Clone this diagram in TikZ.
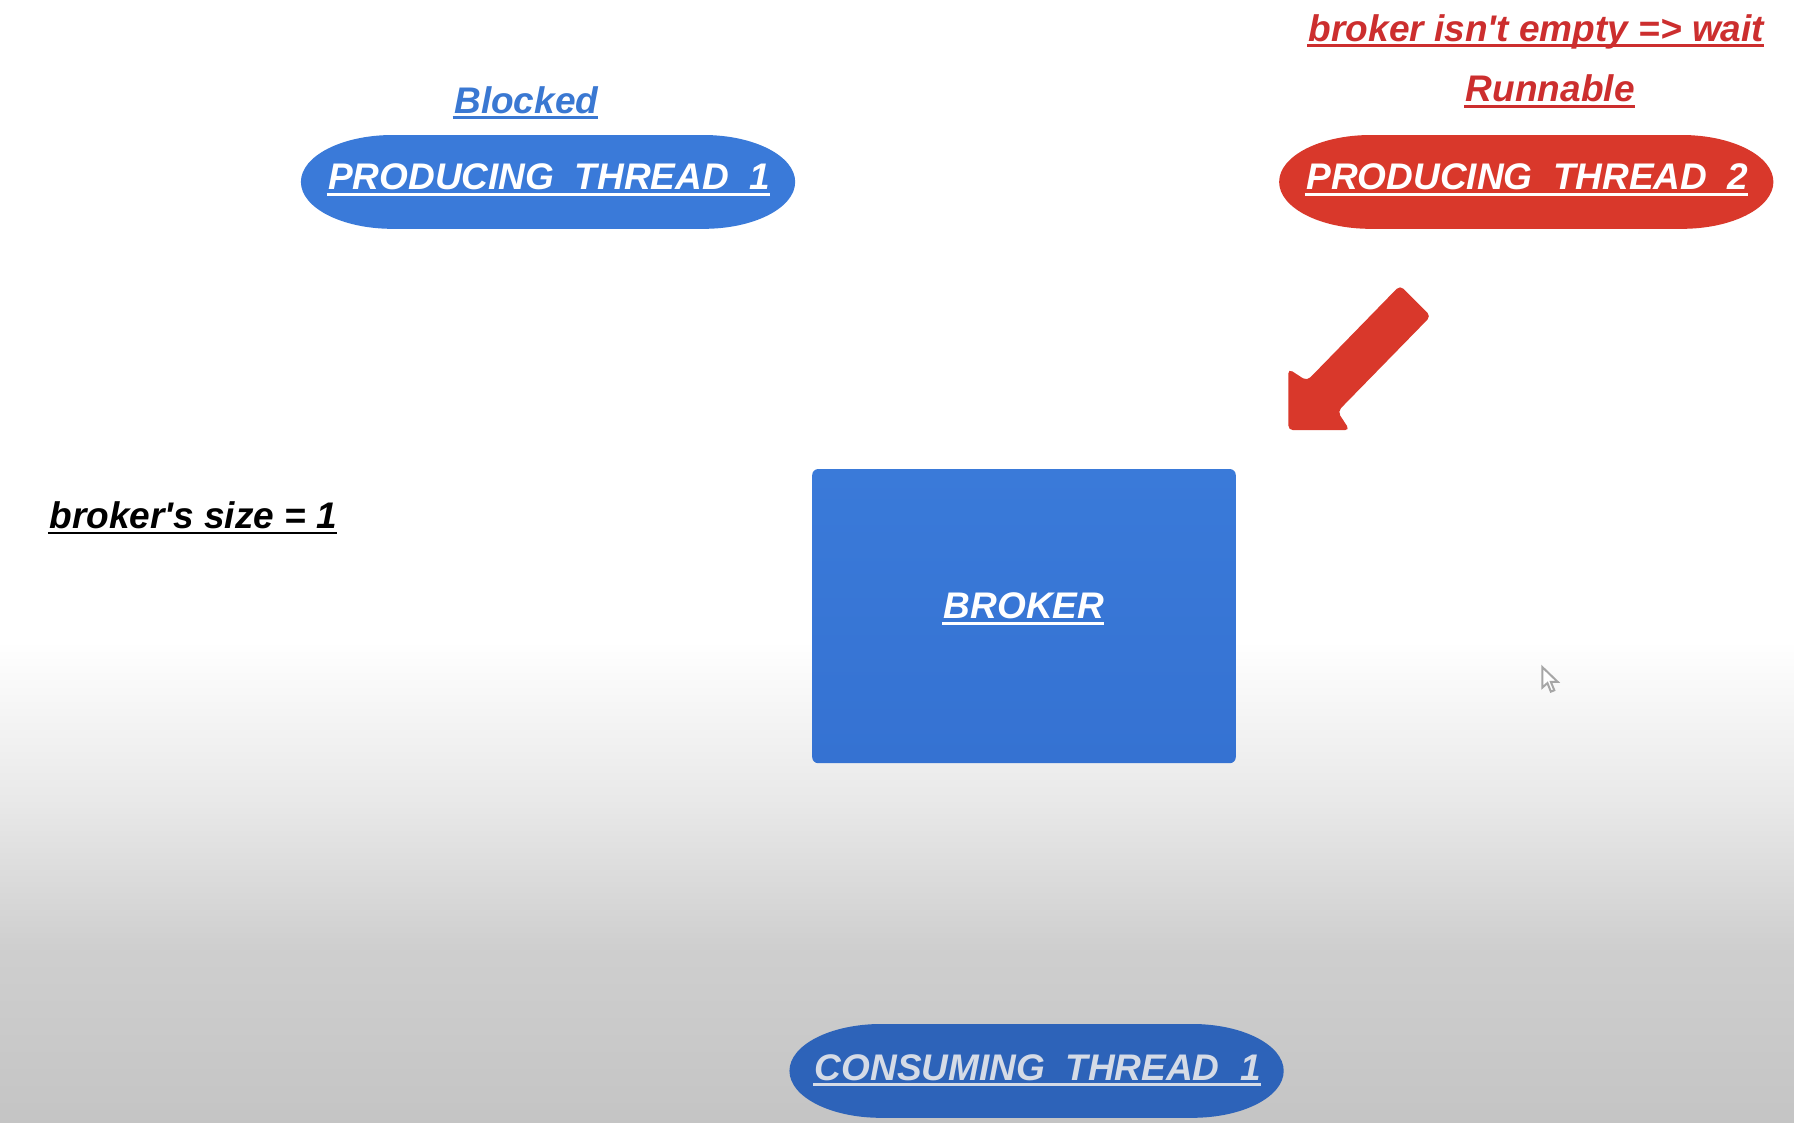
\documentclass[tikz,border=0pt]{standalone}
\usepackage{fontspec}
\setmainfont{Liberation Sans}
\usetikzlibrary{shapes.geometric}
\definecolor{gblue}{HTML}{3A7AD9}
\definecolor{gblueD}{HTML}{3572D2}
\definecolor{cblue}{HTML}{2D63B9}
\definecolor{gred}{HTML}{D9382B}
\definecolor{tred}{HTML}{CC2E2E}
\definecolor{tblue}{HTML}{3A78D2}
\definecolor{ctext}{HTML}{D5DBE6}
\definecolor{bgA}{gray}{0.77}
\definecolor{bgB}{gray}{0.81}
\definecolor{bgC}{gray}{0.91}
\pgfdeclareverticalshading{bgshade}{100bp}{color(0bp)=(bgA); color(25bp)=(bgA); color(43bp)=(bgB); color(58bp)=(bgC); color(75bp)=(white); color(100bp)=(white)}
\newsavebox\ulbox
\newcommand\ulx[1]{\sbox\ulbox{#1}\rlap{\kern-0.4pt\rule[-1.45pt]{\dimexpr\wd\ulbox+0.4pt\relax}{0.65pt}}\usebox\ulbox}
\newcommand\gap{\hspace{0.55em}}
% pill shape: centre x, centre y, style
\newcommand\drawpill[3]{%
  \fill[#3] (#1-136,#2-41) -- (#1+136,#2-41)
    arc[start angle=-90,end angle=90,x radius=80,y radius=41]
    -- (#1-136,#2+41)
    arc[start angle=90,end angle=270,x radius=80,y radius=41] -- cycle;}
\begin{document}
\begin{tikzpicture}[x=0.01cm,y=-0.01cm,
  lbl/.style={font=\fontsize{9.2}{11}\selectfont\bfseries\itshape, inner sep=0pt, anchor=base},
  arrowshape/.style={fill=gred, rounded corners=1.2pt},
  brokerbox/.style={rectangle, rounded corners=1.5pt, top color=gblue, bottom color=gblueD, minimum width=3.70cm, minimum height=2.57cm, inner sep=0pt}
]
\fill[white] (0,0) rectangle (1568,981);
\shade[shading=bgshade] (0,560) rectangle (1568,981);
\useasboundingbox (0,0) rectangle (1568,981);

% producing thread 1
\drawpill{479}{159}{gblue}
\node[lbl, white] (pt1) at (480,166) {\ulx{PRODUCING\gap THREAD\gap 1}};
\node[lbl, tblue] (blocked) at (460,99) {\ulx{Blocked}};

% producing thread 2
\drawpill{1334}{159}{gred}
\node[lbl, white] (pt2) at (1335,166) {\ulx{PRODUCING\gap THREAD\gap 2}};
\node[lbl, tred] (runnable) at (1355,89) {\ulx{Runnable}};
\node[lbl, tred] (wait) at (1343,36) {\ulx{broker isn\textquotesingle t empty => wait}};

% arrow
\fill[arrowshape] (1126,376) -- (1179.7,376) -- (1169.1,359.7) -- (1250.6,276.3) -- (1223.7,249.4) -- (1142.3,332.9) -- (1126,322.3) -- cycle;

% broker size
\node[lbl, black] (size) at (169,462) {\ulx{broker\textquotesingle s size = 1}};

% broker
\node[brokerbox] (broker) at (895,538.5) {};
\node[lbl, white] (brokert) at (895,541) {\ulx{BROKER}};

% consumer
\drawpill{906}{936}{cblue}
\node[lbl, ctext] (ct1) at (907,944) {\ulx{CONSUMING\gap THREAD\gap 1}};

% mouse pointer
\filldraw[fill=white, draw=gray!70, line width=0.5pt] (1348,583) -- (1348,601) -- (1352.5,597) -- (1355.5,604.5) -- (1358.5,603.3) -- (1355.5,596) -- (1361.5,596) -- cycle;
\end{tikzpicture}
\end{document}
